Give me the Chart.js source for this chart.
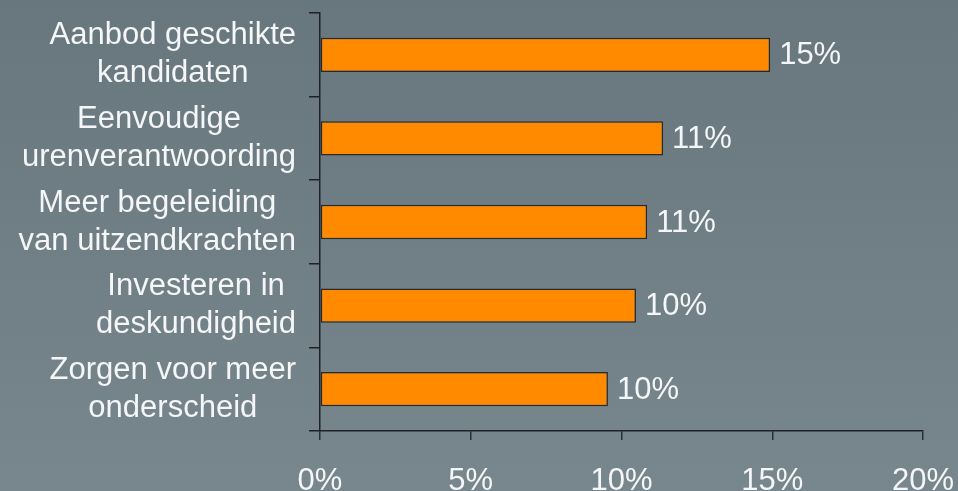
<!DOCTYPE html>
<html>
<head>
<meta charset="utf-8">
<script src="https://cdn.jsdelivr.net/npm/chart.js@4/dist/chart.umd.min.js"></script>
<style>
  html, body { margin: 0; padding: 0; }
  body { width: 958px; height: 491px; overflow: hidden;
         background: linear-gradient(to bottom, #68767e, #78868d); }
  #wrap { position: relative; width: 958px; height: 491px; }
</style>
</head>
<body>
<div id="wrap"><canvas id="chart-bar"></canvas></div>
<script>
var categories = [
  ['Aanbod geschikte', 'kandidaten'],
  ['Eenvoudige', 'urenverantwoording'],
  ['Meer begeleiding', 'van uitzendkrachten'],
  ['Investeren in', 'deskundigheid'],
  ['Zorgen voor meer', 'onderscheid']
];
var values = [14.93, 11.38, 10.85, 10.48, 9.55];
var xTicks = [0, 5, 10, 15, 20];

var fontFamily = '"Liberation Sans", Arial, sans-serif';
var textColor = '#f4f6f7';

// category labels: lines centred inside a right-aligned block
var yLabelPlugin = {
  id: 'yLabels',
  afterDraw: function (chart) {
    var c = chart.ctx, yScale = chart.scales.y;
    c.save();
    c.font = '31px ' + fontFamily;
    c.fillStyle = textColor;
    c.textAlign = 'center';
    c.textBaseline = 'middle';
    var right = yScale.right - 24;
    categories.forEach(function (lines, i) {
      var maxW = 0;
      lines.forEach(function (l) { maxW = Math.max(maxW, c.measureText(l).width); });
      var cx = right - maxW / 2;
      var cy = yScale.getPixelForValue(i);
      lines.forEach(function (l, j) {
        c.fillText(l, cx, cy + (j - (lines.length - 1) / 2) * 38);
      });
    });
    c.restore();
  }
};

// value labels at the end of each bar
var valueLabelPlugin = {
  id: 'valueLabels',
  afterDatasetsDraw: function (chart) {
    var c = chart.ctx;
    var meta = chart.getDatasetMeta(0);
    c.save();
    c.font = '31px ' + fontFamily;
    c.fillStyle = textColor;
    c.textAlign = 'left';
    c.textBaseline = 'middle';
    meta.data.forEach(function (bar, i) {
      c.fillText(Math.round(values[i]) + '%', bar.x + 9, bar.y + 1);
    });
    c.restore();
  }
};

var ctx = document.getElementById('chart-bar').getContext('2d');

new Chart(ctx, {
  type: 'bar',
  data: {
    labels: categories,
    datasets: [{
      data: values,
      backgroundColor: '#ff8a00',
      borderColor: '#2b2a27',
      borderWidth: 1.5,
      borderSkipped: false,
      barPercentage: 0.41,
      categoryPercentage: 1.0
    }]
  },
  plugins: [yLabelPlugin, valueLabelPlugin],
  options: {
    indexAxis: 'y',
    responsive: true,
    maintainAspectRatio: false,
    animation: false,
    layout: { padding: { top: 13, right: 35, left: 0, bottom: 0 } },
    plugins: {
      legend: { display: false },
      tooltip: { enabled: false }
    },
    scales: {
      x: {
        min: 0,
        max: 20,
        afterBuildTicks: function (scale) {
          scale.ticks = xTicks.map(function (v) { return { value: v }; });
        },
        afterFit: function (scale) {
          scale.height = 60;
          scale.paddingLeft = 0;
          scale.paddingRight = 0;
        },
        grid: {
          display: true,
          drawOnChartArea: false,
          drawTicks: true,
          tickLength: 9,
          color: '#2b2f33',
          lineWidth: 1.5
        },
        border: { display: true, color: '#1e2226', width: 1.5 },
        ticks: {
          padding: 23,
          color: textColor,
          maxRotation: 0,
          font: { size: 31, family: fontFamily },
          callback: function (v) { return v + '%'; }
        }
      },
      y: {
        afterFit: function (scale) { scale.width = 320; },
        grid: {
          display: true,
          offset: true,
          drawOnChartArea: false,
          drawTicks: true,
          tickLength: 11,
          color: '#1e2226',
          lineWidth: 1.5
        },
        border: { display: true, color: '#1e2226', width: 1.5 },
        ticks: { display: false }
      }
    }
  }
});
</script>
</body>
</html>
